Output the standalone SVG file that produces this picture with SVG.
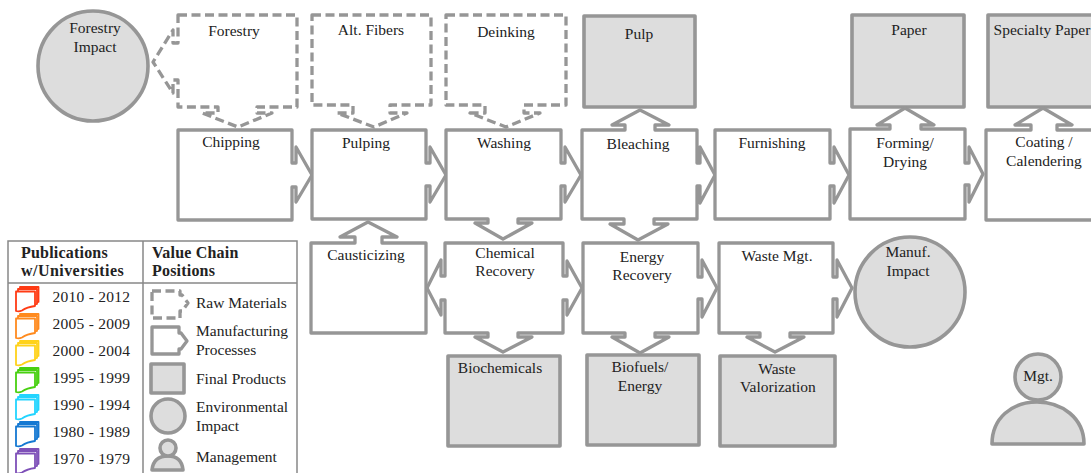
<svg xmlns="http://www.w3.org/2000/svg" width="1091" height="473" viewBox="0 0 1091 473">
<style>
text{font-family:"Liberation Serif","Times New Roman",serif;font-size:15.5px;fill:#222;text-anchor:middle}
.l{text-anchor:start}
.y{text-anchor:start;letter-spacing:.25px}
.b{font-weight:bold;text-anchor:start;font-size:16px;letter-spacing:.2px}
.p{fill:#fff;stroke:#969696;stroke-width:3.3;stroke-linejoin:round}
.d{fill:#fff;stroke:#969696;stroke-width:3.3;stroke-dasharray:9 4.5;stroke-linejoin:round}
.f{fill:#ddd;stroke:#969696;stroke-width:3.6;stroke-linejoin:round}
.pg{fill:#fff;stroke-width:1.8;stroke-linejoin:round}
.ln{fill:none;stroke:#888;stroke-width:1.5}
</style>
<defs>
<g id="doc">
<path class="pg" d="M20 287H38.500V302L20 307Z"/>
<path class="pg" d="M18 289H37V304L18 309Z"/>
<path class="pg" d="M16 291.500H35V306Q27 307 22 310.500Q19 312 16 311Z"/>
</g>
</defs>
<g id="connectors"></g>
<g id="forestry-impact"><circle class="f" cx="93" cy="66" r="55"/><text x="95" y="33">Forestry</text><text x="95" y="52">Impact</text></g>
<g id="forestry"><path class="d" d="M178 15H297V107H257V113H272L238 127L202 113H218V107H178V80H173V93L153 62L173 30V43H178Z"/><text x="234" y="36">Forestry</text></g>
<g id="alt-fibers"><path class="d" d="M312 15H431V105H390V113H407L374 127L337 113H353V105H312Z"/><text x="371" y="35">Alt. Fibers</text></g>
<g id="deinking"><path class="d" d="M446 15H566V105H524V113H540L506 127L470 113H485V105H446Z"/><text x="506" y="37">Deinking</text></g>
<g id="pulp"><rect class="f" x="584" y="16" width="111" height="91"/><text x="639" y="39">Pulp</text></g>
<g id="paper"><rect class="f" x="852" y="15" width="112" height="92"/><text x="909" y="35">Paper</text></g>
<g id="specialty-paper"><rect class="f" x="988" y="15" width="113" height="92"/><text x="1042" y="35">Specialty Paper</text></g>
<g id="chipping"><path class="p" d="M178 130H292V163H296V147L312 175L296 202V187H292V220H178Z"/><text x="231" y="147">Chipping</text></g>
<g id="pulping"><path class="p" d="M312 130H426V163H430V147L446 175L430 202V186H426V219H312Z"/><text x="366" y="148">Pulping</text></g>
<g id="washing"><path class="p" d="M446 130H561V163H565V147L581 175L565 202V186H561V219H518V223H532L503 239L475 223H488V219H446Z"/><text x="504" y="148">Washing</text></g>
<g id="bleaching"><path class="p" d="M582 130H625V125H612L640 110L669 125H655V130H697V163H700V147L715 175L700 203V186H697V219H654V224H668L638 240L610 224H624V219H582Z"/><text x="638" y="149">Bleaching</text></g>
<g id="furnishing"><path class="p" d="M715 130H830V163H834V147L849 175L834 203V186H830V219H715Z"/><text x="772" y="148">Furnishing</text></g>
<g id="forming"><path class="p" d="M850 129H890V125H877L905 108L934 125H921V129H965V163H969V147L983 174L969 202V185H965V219H850Z"/><text x="905" y="148">Forming/</text><text x="905" y="167">Drying</text></g>
<g id="coating"><path class="p" d="M986 130H1031V125H1015L1043 108L1072 125H1057V130H1101V220H986Z"/><text x="1044" y="147">Coating /</text><text x="1044" y="166">Calendering</text></g>
<g id="causticizing"><path class="p" d="M311 243H355V237H340L368 222L397 237H382V243H426V333H311Z"/><text x="366" y="260">Causticizing</text></g>
<g id="chemical-recovery"><path class="p" d="M445 243H563V276H567V261L582 288L567 315V300H563V333H518V337H532L503 352L475 337H488V333H445V300H441V315L427 288L441 260V276H445Z"/><text x="505" y="258">Chemical</text><text x="505" y="276">Recovery</text></g>
<g id="energy-recovery"><path class="p" d="M583 243H698V277H702V260L717 288L702 317V299H698V333H655V337H669L640 353L612 337H625V333H583Z"/><text x="642" y="262">Energy</text><text x="642" y="280">Recovery</text></g>
<g id="waste-mgt"><path class="p" d="M719 243H833V277H837V260L852 288L837 317V299H833V333H790V337H804L775 352L747 337H760V333H719Z"/><text x="777" y="261">Waste Mgt.</text></g>
<g id="manuf-impact"><circle class="f" cx="910" cy="292" r="55"/><text x="908" y="257">Manuf.</text><text x="908" y="276">Impact</text></g>
<g id="biochemicals"><rect class="f" x="448" y="356" width="112" height="90"/><text x="500" y="373">Biochemicals</text></g>
<g id="biofuels"><rect class="f" x="587" y="355" width="112" height="90"/><text x="640" y="372">Biofuels/</text><text x="640" y="391">Energy</text></g>
<g id="waste-valorization"><rect class="f" x="720" y="356" width="115" height="90"/><text x="777" y="374">Waste</text><text x="778" y="392">Valorization</text></g>
<g id="mgt"><path class="f" d="M992 444C992 418 1012 402 1037 402C1062 402 1084 418 1084 444Z"/><circle class="f" cx="1038" cy="377" r="23"/><text x="1038" y="381">Mgt.</text></g>
<g id="legend">
<path class="ln" d="M8 473V241H297V473M8 283H297M143 241V473"/>
<text class="b" x="21" y="258">Publications</text><text class="b" x="21" y="276" style="letter-spacing:.45px">w/Universities</text>
<text class="b" x="152" y="258">Value Chain</text><text class="b" x="152" y="276">Positions</text>
<use href="#doc" stroke="#ff3b14"/><text class="y" x="52.500" y="302">2010 - 2012</text>
<use href="#doc" y="27" stroke="#ff8a1e"/><text class="y" x="52.500" y="329">2005 - 2009</text>
<use href="#doc" y="54" stroke="#ffd21a"/><text class="y" x="52.500" y="356">2000 - 2004</text>
<use href="#doc" y="81" stroke="#48d010"/><text class="y" x="52.500" y="383">1995 - 1999</text>
<use href="#doc" y="108" stroke="#22d4ff"/><text class="y" x="52.500" y="410">1990 - 1994</text>
<use href="#doc" y="135" stroke="#1478d2"/><text class="y" x="52.500" y="437">1980 - 1989</text>
<use href="#doc" y="162" stroke="#7e50b8"/><text class="y" x="52.500" y="464">1970 - 1979</text>
<path class="d" d="M152 291H180V295H182L188 303L182 311H180V318H152Z" stroke-dasharray="6 3.500"/><text class="l" x="196" y="308">Raw Materials</text>
<path class="p" d="M152 327H179V333H181L187 341L181 349H179V354H152Z"/><text class="l" x="196" y="336">Manufacturing</text><text class="l" x="196" y="355">Processes</text>
<rect class="f" x="151" y="364" width="33" height="29"/><text class="l" x="196" y="384">Final Products</text>
<circle class="f" cx="168" cy="416" r="17"/><text class="l" x="196" y="412">Environmental</text><text class="l" x="196" y="431">Impact</text>
<path class="f" d="M152 470C153 460 159 456 168 456C177 456 182 460 183 470Z"/><circle class="f" cx="168" cy="448" r="8"/><text class="l" x="196" y="462">Management</text>
</g>
</svg>
